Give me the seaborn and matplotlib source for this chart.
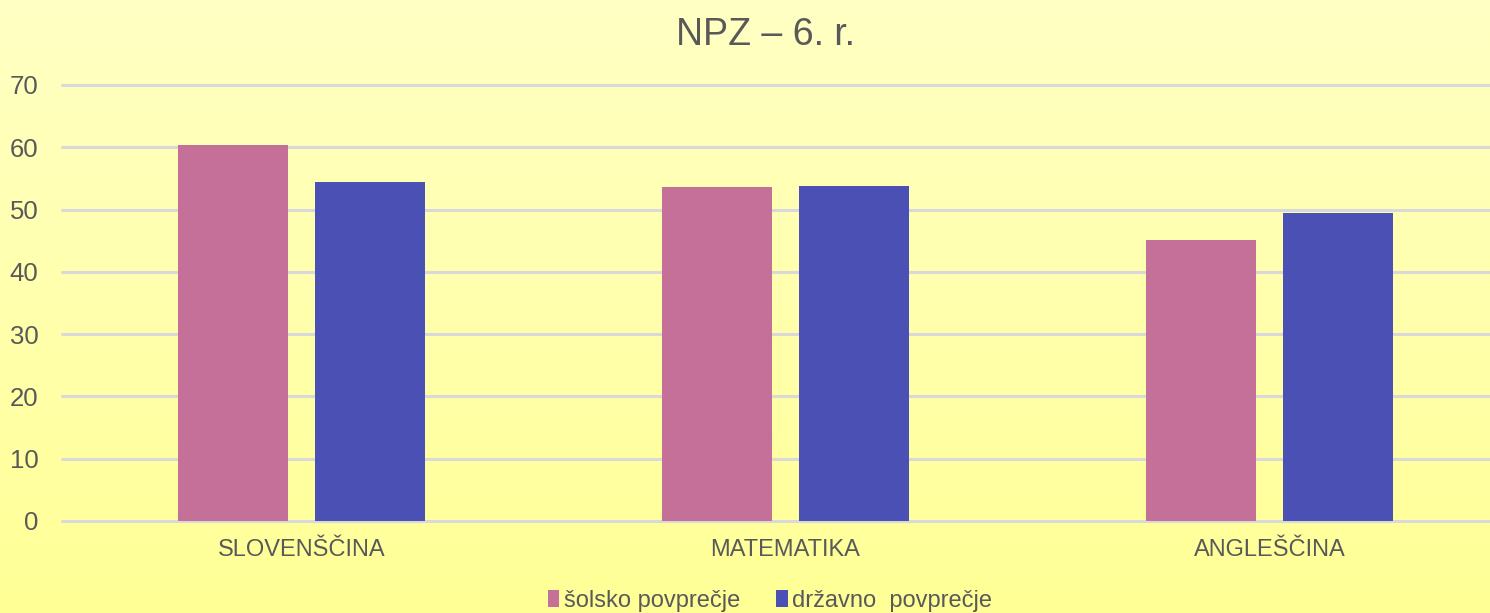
import numpy as np
import pandas as pd
import matplotlib
matplotlib.use("Agg")
import matplotlib.pyplot as plt
import seaborn as sns

categories = ["SLOVENŠČINA", "MATEMATIKA", "ANGLEŠČINA"]
series_names = ["šolsko povprečje", "državno  povprečje"]
school_avg = [60.3, 53.6, 45.1]
national_avg = [54.4, 53.8, 49.4]
yticks = [0, 10, 20, 30, 40, 50, 60, 70]
title = "NPZ – 6. r."

df = pd.DataFrame({
    "predmet": categories * 2,
    "serija": [series_names[0]] * 3 + [series_names[1]] * 3,
    "vrednost": school_avg + national_avg,
})

sns.set_theme(style="white")
plt.rcParams["font.family"] = ["Liberation Sans", "DejaVu Sans"]
TXT = "#595959"

W, H = 1490, 613
fig = plt.figure(figsize=(W / 100, H / 100), dpi=100)

# background gradient
bg = fig.add_axes([0, 0, 1, 1], zorder=-10)
top = np.array([255, 255, 196]) / 255
bot = np.array([255, 255, 150]) / 255
t = np.linspace(0, 1, 256)[:, None]
grad = (top[None, :] * (1 - t) + bot[None, :] * t)[:, None, :]
bg.imshow(grad, aspect="auto", extent=[0, 1, 0, 1])
bg.set_axis_off()

ax = fig.add_axes([62 / W, 92 / H, 1 - 62 / W, (521 - 85) / H])
ax.patch.set_alpha(0)

sns.barplot(data=df, x="predmet", y="vrednost", hue="serija",
            palette=["#C47098", "#4B50B4"], width=0.568, gap=0.2,
            saturation=1, ax=ax, errorbar=None, linewidth=0)

ax.set_xlim(-0.495, 2.456)
ax.set_ylim(0, 70)
ax.set_yticks(yticks)
ax.yaxis.grid(True, color="#D9D9D9", linewidth=2.2)
for gl in ax.yaxis.get_gridlines():
    gl.set_clip_on(False)
ax.set_axisbelow(True)
for s in ax.spines.values():
    s.set_visible(False)
ax.set_xlabel("")
ax.set_ylabel("")
ax.tick_params(axis="y", length=0, pad=17, labelsize=18.5, labelcolor=TXT)
ax.tick_params(axis="x", length=0, pad=13, labelsize=17, labelcolor=TXT)

fig.text(766 / W, 1 - 35 / H, title, ha="center", va="center",
         fontsize=27, color=TXT)

sns.move_legend(ax, "center", bbox_to_anchor=(770 / W, 1 - 601 / H),
                bbox_transform=fig.transFigure, ncol=2, frameon=False,
                title=None, fontsize=17, handlelength=0.5, handleheight=0.75,
                handletextpad=0.2, columnspacing=1.5, labelcolor=TXT)

fig.savefig("out.png", dpi=100)
